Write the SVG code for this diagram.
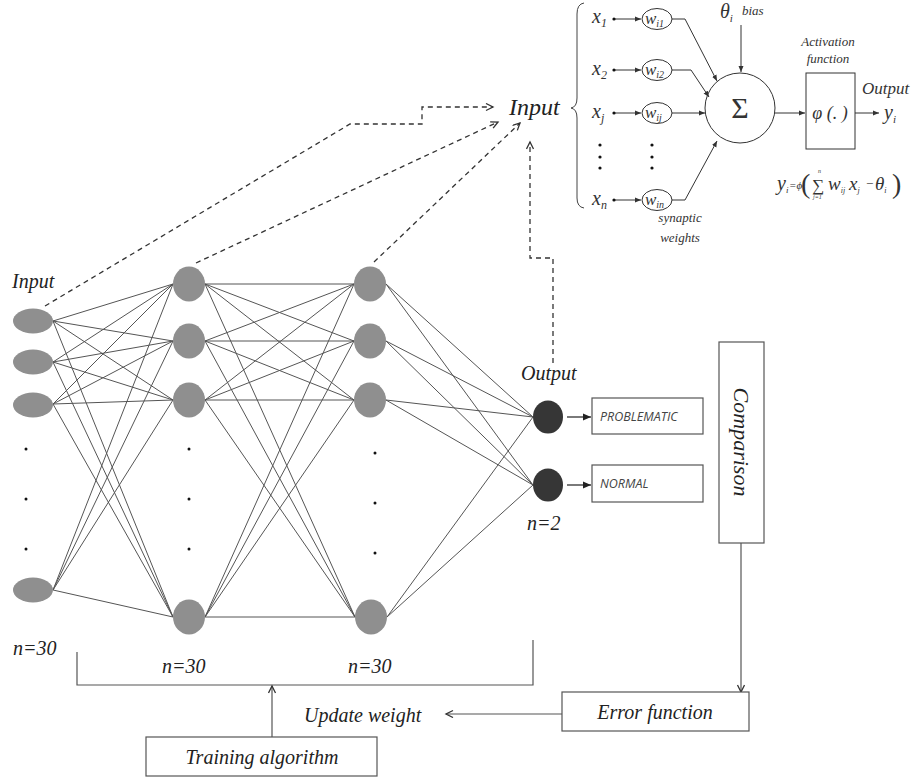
<svg xmlns="http://www.w3.org/2000/svg" width="912" height="778" viewBox="0 0 912 778">
<style>
.lbl{font-family:"Liberation Serif","Times New Roman",serif;font-style:italic;fill:#222}
.ser{font-family:"Liberation Serif","Times New Roman",serif;font-style:italic;fill:#333}
.up{font-style:normal}
.sans{font-family:"Open Sans","Liberation Sans",sans-serif;font-style:italic;fill:#444;font-size:12.5px}
.net line{stroke:#555;stroke-width:1}
.box{fill:#fff;stroke:#555;stroke-width:1.2}
.dash{fill:none;stroke:#333;stroke-width:1.3;stroke-dasharray:5 4;marker-end:url(#open)}
.conn{fill:none;stroke:#555;stroke-width:1.2}
.nd{fill:#8f8f8f}
.out{fill:#363636}
.dot{fill:#111}
.thin{fill:none;stroke:#444;stroke-width:1}
</style>
<defs>
<marker id="open" markerUnits="userSpaceOnUse" markerWidth="10" markerHeight="10" refX="8" refY="4" orient="auto">
<path d="M1,0.5 L8,4 L1,7.5" fill="none" stroke="#333" stroke-width="1.3"/>
</marker>
<marker id="fill" markerUnits="userSpaceOnUse" markerWidth="10" markerHeight="10" refX="8" refY="4" orient="auto">
<path d="M0,0.5 L8,4 L0,7.5 Z" fill="#222"/>
</marker>
<marker id="sm" markerUnits="userSpaceOnUse" markerWidth="8" markerHeight="8" refX="6" refY="3" orient="auto">
<path d="M0,0.5 L6,3 L0,5.5 Z" fill="#333"/>
</marker>
</defs>

<g id="connectors">
<g class="net">
<line x1="53" y1="321" x2="173" y2="284"/><line x1="53" y1="321" x2="173" y2="341"/><line x1="53" y1="321" x2="173" y2="400"/><line x1="53" y1="321" x2="173" y2="617"/>
<line x1="53" y1="362" x2="173" y2="284"/><line x1="53" y1="362" x2="173" y2="341"/><line x1="53" y1="362" x2="173" y2="400"/><line x1="53" y1="362" x2="173" y2="617"/>
<line x1="53" y1="404" x2="173" y2="284"/><line x1="53" y1="404" x2="173" y2="341"/><line x1="53" y1="404" x2="173" y2="400"/><line x1="53" y1="404" x2="173" y2="617"/>
<line x1="53" y1="590" x2="173" y2="284"/><line x1="53" y1="590" x2="173" y2="341"/><line x1="53" y1="590" x2="173" y2="400"/><line x1="53" y1="590" x2="173" y2="617"/>
<line x1="205" y1="284" x2="354" y2="284"/><line x1="205" y1="284" x2="354" y2="341"/><line x1="205" y1="284" x2="354" y2="400"/><line x1="205" y1="284" x2="355" y2="617"/>
<line x1="205" y1="341" x2="354" y2="284"/><line x1="205" y1="341" x2="354" y2="341"/><line x1="205" y1="341" x2="354" y2="400"/><line x1="205" y1="341" x2="355" y2="617"/>
<line x1="205" y1="400" x2="354" y2="284"/><line x1="205" y1="400" x2="354" y2="341"/><line x1="205" y1="400" x2="354" y2="400"/><line x1="205" y1="400" x2="355" y2="617"/>
<line x1="205" y1="617" x2="354" y2="284"/><line x1="205" y1="617" x2="354" y2="341"/><line x1="205" y1="617" x2="354" y2="400"/><line x1="205" y1="617" x2="355" y2="617"/>
<line x1="386" y1="284" x2="533" y2="417"/><line x1="386" y1="284" x2="533" y2="485"/>
<line x1="386" y1="341" x2="533" y2="417"/><line x1="386" y1="341" x2="533" y2="485"/>
<line x1="386" y1="400" x2="533" y2="417"/><line x1="386" y1="400" x2="533" y2="485"/>
<line x1="387" y1="617" x2="533" y2="417"/><line x1="387" y1="617" x2="533" y2="485"/>
</g>
<path class="dash" d="M45,306 L350,124 H422 V107 H493"/>
<path class="dash" d="M196,263 L498,122"/>
<path class="dash" d="M374,262 L520,123"/>
<path class="dash" d="M553,363 V258 H530 V142"/>
<line x1="567" y1="417" x2="591" y2="417" stroke="#222" stroke-width="1.2" marker-end="url(#fill)"/>
<line x1="567" y1="485" x2="591" y2="485" stroke="#222" stroke-width="1.2" marker-end="url(#fill)"/>
<path class="conn" d="M741,543 V692" marker-end="url(#open)"/>
<path class="conn" d="M562,714 H446" marker-end="url(#open)"/>
<path class="conn" d="M77,652 V685 H533 V640"/>
<path class="conn" d="M272,737 V686" marker-end="url(#open)"/>
</g>

<g id="input-layer">
<ellipse class="nd" cx="33" cy="321" rx="20" ry="12.5"/>
<ellipse class="nd" cx="33" cy="362" rx="20" ry="12.5"/>
<ellipse class="nd" cx="33" cy="405" rx="20" ry="12.5"/>
<ellipse class="nd" cx="33" cy="590" rx="20" ry="12.5"/>
<circle class="dot" cx="26" cy="449" r="1.5"/><circle class="dot" cx="26" cy="499" r="1.5"/><circle class="dot" cx="26" cy="549" r="1.5"/>
<text class="lbl" x="12" y="288" font-size="20">Input</text>
<text class="lbl" x="13" y="655" font-size="20">n=30</text>
</g>

<g id="hidden-layer-1">
<ellipse class="nd" cx="189" cy="284" rx="16" ry="17.5"/>
<ellipse class="nd" cx="189" cy="341" rx="16" ry="17.5"/>
<ellipse class="nd" cx="189" cy="400" rx="16" ry="17.5"/>
<ellipse class="nd" cx="189" cy="617" rx="16" ry="17.5"/>
<circle class="dot" cx="189" cy="449" r="1.5"/><circle class="dot" cx="189" cy="499" r="1.5"/><circle class="dot" cx="189" cy="549" r="1.5"/>
<text class="lbl" x="162" y="673" font-size="20">n=30</text>
</g>

<g id="hidden-layer-2">
<ellipse class="nd" cx="370" cy="284" rx="16" ry="17.5"/>
<ellipse class="nd" cx="370" cy="341" rx="16" ry="17.5"/>
<ellipse class="nd" cx="370" cy="400" rx="16" ry="17.5"/>
<ellipse class="nd" cx="371" cy="617" rx="16" ry="17.5"/>
<circle class="dot" cx="375" cy="453" r="1.5"/><circle class="dot" cx="375" cy="503" r="1.5"/><circle class="dot" cx="375" cy="553" r="1.5"/>
<text class="lbl" x="348" y="673" font-size="20">n=30</text>
</g>

<g id="output-layer">
<ellipse class="out" cx="548" cy="417" rx="15" ry="16.5"/>
<ellipse class="out" cx="548" cy="485" rx="15" ry="16.5"/>
<text class="lbl" x="521" y="380" font-size="20">Output</text>
<text class="lbl" x="527" y="530" font-size="20">n=2</text>
</g>

<g id="problematic">
<rect class="box" x="592" y="398" width="111" height="36"/>
<text class="sans" x="600" y="421">PROBLEMATIC</text>
</g>
<g id="normal">
<rect class="box" x="592" y="465" width="111" height="37"/>
<text class="sans" x="600" y="488">NORMAL</text>
</g>

<g id="comparison">
<rect class="box" x="719" y="342" width="45" height="201"/>
<text class="lbl" font-size="22" text-anchor="middle" transform="translate(741,442) rotate(90)" y="7">Comparison</text>
</g>

<g id="error-function">
<rect class="box" x="562" y="692" width="187" height="39"/>
<text class="lbl" x="655" y="719" font-size="20" text-anchor="middle">Error function</text>
</g>

<g id="update-weight">
<text class="lbl" x="304" y="722" font-size="20">Update weight</text>
</g>

<g id="training-algorithm">
<rect class="box" x="146" y="737" width="231" height="39"/>
<text class="lbl" x="262" y="764" font-size="20" text-anchor="middle">Training algorithm</text>
</g>

<g id="neuron-input">
<text class="lbl" x="509" y="115" font-size="24">Input</text>
</g>

<g id="neuron-model">
<path class="thin" stroke="#777" d="M584,3 Q577,4 577,14 V98 Q577,107 571,108 Q577,109 577,118 V198 Q577,207 584,208"/>
<text class="ser" x="592" y="23" font-size="20">x<tspan font-size="12" dy="4">1</tspan></text>
<text class="ser" x="592" y="75" font-size="20">x<tspan font-size="12" dy="4">2</tspan></text>
<text class="ser" x="592" y="118" font-size="20">x<tspan font-size="12" dy="4">j</tspan></text>
<text class="ser" x="592" y="205" font-size="20">x<tspan font-size="12" dy="4">n</tspan></text>
<circle class="dot" cx="600" cy="145" r="1.6"/><circle class="dot" cx="600" cy="157" r="1.6"/><circle class="dot" cx="600" cy="168" r="1.6"/>
<circle class="dot" cx="652" cy="145" r="1.6"/><circle class="dot" cx="652" cy="157" r="1.6"/><circle class="dot" cx="652" cy="168" r="1.6"/>
<g stroke="#333" stroke-width="1" fill="none">
<line x1="614" y1="19" x2="641" y2="19" marker-end="url(#sm)"/>
<line x1="614" y1="70" x2="641" y2="70" marker-end="url(#sm)"/>
<line x1="614" y1="113" x2="641" y2="113" marker-end="url(#sm)"/>
<line x1="614" y1="200" x2="641" y2="200" marker-end="url(#sm)"/>
<path d="M672,19 H685 L717,81" marker-end="url(#sm)"/>
<path d="M672,70 H691 L709,97" marker-end="url(#sm)"/>
<path d="M672,113 H705" marker-end="url(#sm)"/>
<path d="M672,200 H685 L717,141" marker-end="url(#sm)"/>
<line x1="741" y1="25" x2="741" y2="72" marker-end="url(#sm)"/>
<line x1="775" y1="113" x2="805" y2="113" marker-end="url(#sm)"/>
<line x1="855" y1="113" x2="879" y2="113" marker-end="url(#sm)"/>
<ellipse cx="657" cy="19" rx="15" ry="10.5"/>
<ellipse cx="657" cy="70" rx="15" ry="10.5"/>
<ellipse cx="657" cy="113" rx="15" ry="10.5"/>
<ellipse cx="657" cy="200" rx="15" ry="10.5"/>
<circle cx="740" cy="108" r="35"/>
<rect x="806" y="73" width="49" height="76"/>
</g>
<circle class="dot" cx="614" cy="19" r="1.6"/><circle class="dot" cx="614" cy="70" r="1.6"/><circle class="dot" cx="614" cy="113" r="1.6"/><circle class="dot" cx="614" cy="200" r="1.6"/>
<text class="ser" x="645" y="24" font-size="17">w<tspan font-size="10" dy="3">i1</tspan></text>
<text class="ser" x="645" y="75" font-size="17">w<tspan font-size="10" dy="3">i2</tspan></text>
<text class="ser" x="645" y="118" font-size="17">w<tspan font-size="10" dy="3">ij</tspan></text>
<text class="ser" x="645" y="205" font-size="17">w<tspan font-size="10" dy="3">in</tspan></text>
<text class="ser" x="720" y="18" font-size="20">θ<tspan font-size="11" dy="4">i</tspan></text>
<text class="ser" x="742" y="15" font-size="13" fill="#555">bias</text>
<text class="ser" x="828" y="46" font-size="13" text-anchor="middle" fill="#666">Activation</text>
<text class="ser" x="828" y="63" font-size="13" text-anchor="middle" fill="#666">function</text>
<text class="ser" x="830" y="119" font-size="18" text-anchor="middle">φ (. )</text>
<text class="ser" x="862" y="94" font-size="17">Output</text>
<text class="ser" x="884" y="119" font-size="20">y<tspan font-size="11" dy="4">i</tspan></text>
<text class="ser" x="680" y="222" font-size="13" text-anchor="middle" fill="#555">synaptic</text>
<text class="ser" x="680" y="242" font-size="13" text-anchor="middle" fill="#555">weights</text>
<text class="ser" x="777" y="190" font-size="20">y<tspan font-size="9" dy="3">i</tspan></text>
<text class="ser" x="789" y="189" font-size="11">=ϕ</text>
<text class="ser up" x="801" y="193" font-size="28">(</text>
<text class="ser up" x="812" y="191" font-size="17">∑</text>
<text class="ser" x="818" y="173" font-size="6">n</text>
<text class="ser" x="813" y="199" font-size="6">j=1</text>
<text class="ser" x="828" y="190" font-size="19">w<tspan font-size="8" dy="3">ij</tspan></text>
<text class="ser" x="849" y="190" font-size="19">x<tspan font-size="8" dy="3">j</tspan></text>
<text class="ser up" x="866" y="188" font-size="13">−</text>
<text class="ser" x="875" y="190" font-size="19">θ<tspan font-size="8" dy="3">i</tspan></text>
<text class="ser up" x="892" y="193" font-size="28">)</text>
<text class="ser up" x="740" y="118" font-size="30" text-anchor="middle" fill="#222">Σ</text>
</g>
</svg>
